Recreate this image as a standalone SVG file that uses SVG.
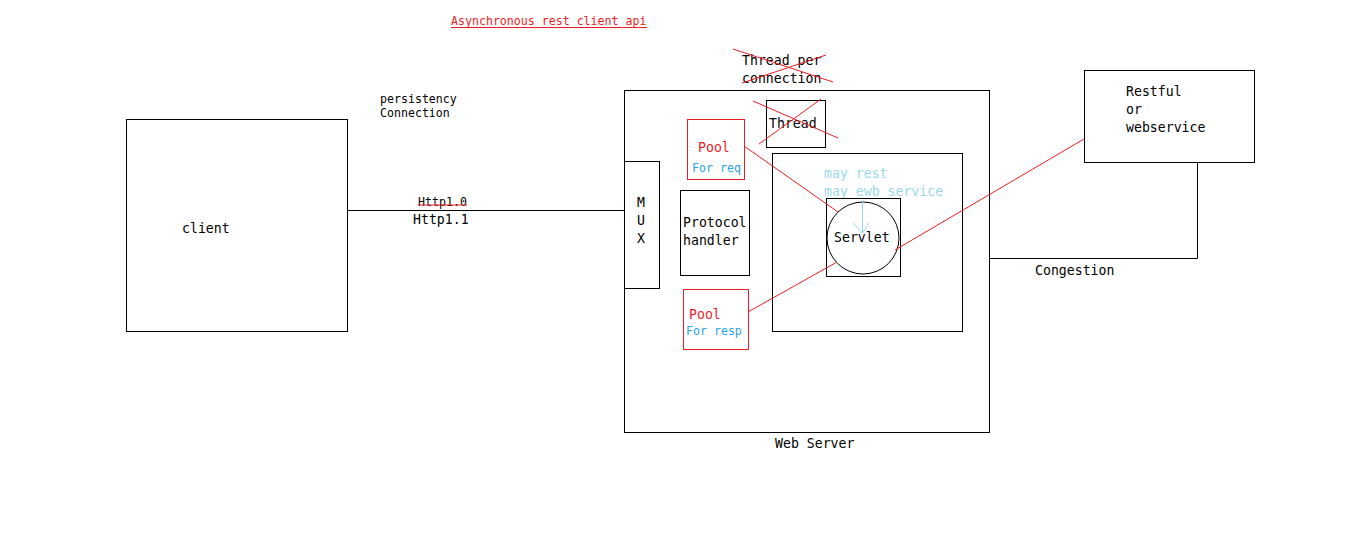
<svg xmlns="http://www.w3.org/2000/svg" width="1352" height="535" viewBox="0 0 1352 535">
<style>
text{font-family:"DejaVu Sans Mono","Liberation Mono",monospace;font-size:13.2px;fill:#000}
.s{font-size:11.6px}
.red{fill:#ed1c24}
.blue{fill:#2aa2e6}
.lblue{fill:#99d9ea}
.box{fill:none;stroke:#000;stroke-width:1}
.rbox{fill:none;stroke:#ed1c24;stroke-width:1}
.rl{stroke:#ed1c24;stroke-width:1;fill:none}
.bl{stroke:#000;stroke-width:1;fill:none}
</style>
<rect width="1352" height="535" fill="#fff"/>
<g id="title">
<text class="s red" x="451" y="25">Asynchronous rest client api</text>
<line class="rl" x1="451" y1="27.5" x2="647" y2="27.5"/>
</g>
<g id="client">
<rect class="box" x="126.5" y="119.5" width="221" height="212"/>
<text x="182" y="233">client</text>
</g>
<g id="persistency">
<text class="s" x="380" y="103">persistency</text>
<text class="s" x="380" y="117">Connection</text>
</g>
<g id="webserver">
<rect class="box" x="624.5" y="90.5" width="365" height="342"/>
<text x="775" y="448">Web Server</text>
</g>
<g id="thread-per-connection">
<text x="742" y="65">Thread per</text>
<text x="742" y="83">connection</text>
<line class="rl" x1="733" y1="49" x2="833" y2="82"/>
<line class="rl" x1="742" y1="83" x2="826" y2="55"/>
</g>
<g id="thread">
<rect class="box" x="766.5" y="100.5" width="59" height="47"/>
<text x="769" y="128">Thread</text>
<line class="rl" x1="753" y1="101" x2="838" y2="138"/>
<line class="rl" x1="759" y1="144" x2="821" y2="99"/>
</g>
<g id="mux">
<rect class="box" x="624.5" y="161.5" width="35" height="127"/>
<text x="637" y="207">M</text>
<text x="637" y="225">U</text>
<text x="637" y="243">X</text>
</g>
<g id="protocol">
<rect class="box" x="680.5" y="190.5" width="69" height="85"/>
<text x="683" y="227">Protocol</text>
<text x="683" y="245">handler</text>
</g>
<g id="pool-req">
<rect class="rbox" x="687.5" y="119.5" width="57" height="60"/>
<text class="red" x="698" y="152">Pool</text>
<text class="s blue" x="692" y="172">For req</text>
</g>
<g id="pool-resp">
<rect class="rbox" x="683.5" y="289.5" width="65" height="60"/>
<text class="red" x="689" y="319">Pool</text>
<text class="s blue" x="686" y="335">For resp</text>
</g>
<g id="container">
<rect class="box" x="772.5" y="153.5" width="190" height="178"/>
<text class="lblue" x="824" y="178">may rest</text>
<text class="lblue" x="824" y="196">may ewb service</text>
</g>
<g id="servlet">
<rect class="box" x="826.5" y="198.5" width="74" height="78"/>
<circle class="bl" cx="863" cy="238" r="36"/>
<text x="834" y="242">Servlet</text>
</g>
<g id="restful">
<rect class="box" x="1084.5" y="70.5" width="170" height="92"/>
<text x="1126" y="96">Restful</text>
<text x="1126" y="114">or</text>
<text x="1126" y="132">webservice</text>
</g>
<g id="connectors">
<line class="bl" x1="347" y1="210.5" x2="624" y2="210.5"/>
<text class="s" x="418" y="206">Http1.0</text>
<line class="rl" x1="418" y1="205" x2="467" y2="205"/>
<text x="413" y="224">Http1.1</text>
<line class="rl" x1="744" y1="146" x2="838" y2="212"/>
<line class="rl" x1="748" y1="312" x2="837" y2="262"/>
<line class="rl" x1="895" y1="250" x2="1084" y2="139"/>
<line stroke="#99d9ea" stroke-width="1" x1="862.5" y1="200" x2="862.5" y2="233"/>
<polyline points="853,223 862.5,233 869,223" fill="none" stroke="#99d9ea" stroke-width="1"/>
<polyline class="bl" points="1197.5,162 1197.5,258.5 990,258.5"/>
<text x="1035" y="275">Congestion</text>
</g>
</svg>
